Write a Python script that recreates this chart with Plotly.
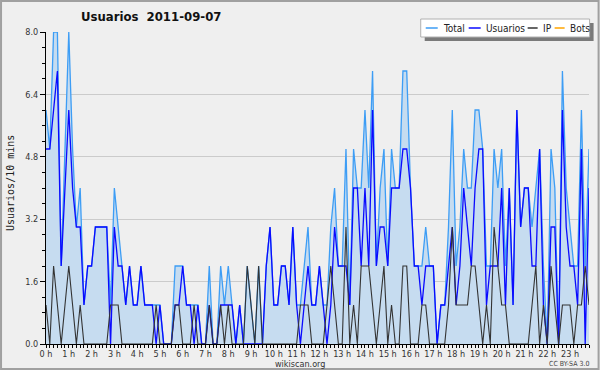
import plotly.graph_objects as go

# ---- data (10-minute intervals, 2011-09-07) ----
minutes = list(range(0, 1440, 10))

usuarios = [5, 5, 6, 7, 2, 4, 6, 4, 3, 3, 1, 2, 2, 3, 3, 3, 3, 0, 3, 2, 2, 1, 2, 1,
            1, 2, 1, 1, 1, 0, 1, 0, 0, 0, 1, 1, 2, 1, 1, 0, 1, 0, 0, 1, 0, 0, 1, 1,
            1, 1, 0, 1, 0, 0, 0, 0, 0, 0, 2, 3, 1, 1, 2, 2, 1, 3, 1, 0, 1, 2, 1, 1,
            2, 1, 0, 1, 3, 2, 2, 2, 1, 4, 4, 2, 4, 2, 6, 2, 3, 3, 2, 4, 4, 4, 5, 5,
            4, 2, 2, 1, 2, 2, 2, 0, 1, 1, 2, 3, 1, 2, 4, 3, 2, 4, 5, 5, 1, 2, 2, 2,
            4, 1, 4, 1, 6, 3, 4, 4, 2, 2, 5, 1, 0, 3, 3, 0, 6, 3, 2, 2, 1, 5, 0, 4]

ip = [1, 0, 2, 1, 0, 1, 2, 1, 0, 1, 0, 0, 0, 0, 0, 0, 0, 1, 1, 1, 0, 0, 0, 0,
      0, 0, 0, 0, 0, 1, 0, 0, 0, 0, 1, 1, 0, 0, 0, 1, 0, 0, 0, 1, 0, 0, 1, 0,
      1, 0, 0, 0, 0, 2, 1, 0, 2, 0, 0, 0, 0, 0, 0, 0, 0, 0, 0, 1, 1, 1, 0, 0,
      0, 0, 1, 2, 1, 0, 0, 3, 0, 1, 0, 2, 2, 2, 1, 0, 1, 2, 0, 1, 0, 0, 2, 2,
      0, 0, 0, 1, 1, 0, 0, 0, 0, 0, 1, 3, 1, 1, 1, 1, 2, 2, 1, 0, 1, 0, 3, 2,
      1, 1, 0, 0, 0, 0, 0, 0, 1, 2, 0, 1, 0, 2, 1, 0, 1, 1, 1, 0, 1, 1, 2, 1]

total = [6, 5, 8, 8, 2, 5, 8, 5, 3, 4, 1, 2, 2, 3, 3, 3, 3, 1, 4, 3, 2, 1, 2, 1,
         1, 2, 1, 1, 1, 1, 1, 0, 0, 0, 2, 2, 2, 1, 1, 1, 1, 0, 0, 2, 0, 0, 2, 1,
         2, 1, 0, 1, 0, 2, 1, 0, 2, 0, 2, 3, 1, 1, 2, 2, 1, 3, 1, 1, 2, 3, 1, 1,
         2, 1, 1, 3, 4, 2, 2, 5, 1, 5, 4, 4, 6, 4, 7, 2, 4, 5, 2, 5, 4, 4, 7, 7,
         4, 2, 2, 2, 3, 2, 2, 0, 1, 1, 3, 6, 2, 3, 5, 4, 4, 6, 6, 5, 2, 2, 5, 4,
         5, 2, 4, 1, 6, 3, 4, 4, 3, 4, 5, 2, 0, 5, 4, 0, 7, 4, 3, 2, 2, 6, 2, 5]

bots = [0] * 144

y_tick_vals = [0, 1.6, 3.2, 4.8, 6.4, 8.0]
y_tick_text = ["0.0", "1.6", "3.2", "4.8", "6.4", "8.0"]
hour_ticks = [0, 60, 120, 180, 240, 300, 360, 420, 480, 540, 600, 660, 720,
              780, 840, 900, 960, 1020, 1080, 1140, 1200, 1260, 1320, 1380]
hour_labels = ["0 h", "1 h", "2 h", "3 h", "4 h", "5 h", "6 h", "7 h", "8 h",
               "9 h", "10 h", "11 h", "12 h", "13 h", "14 h", "15 h", "16 h",
               "17 h", "18 h", "19 h", "20 h", "21 h", "22 h", "23 h"]

series_names = ["Total", "Usuarios", "IP", "Bots"]
series_colors = ["#3d9df5", "#0a0aff", "#333333", "#ffa500"]

# ---- layout geometry (pixels) ----
W_PX, H_PX = 600, 370
L, R, T, B = 46, 589.4, 32, 344
PW, PH = R - L, B - T


def px(x):
    return (x - L) / PW


def py(y):
    return (B - y) / PH


FONT = "DejaVu Sans Condensed, DejaVu Sans, sans-serif"

fig = go.Figure()
fig.add_trace(go.Scatter(x=minutes, y=bots, mode="lines", name="Bots",
                         line=dict(color=series_colors[3], width=1.2)))
fig.add_trace(go.Scatter(x=minutes, y=total, mode="lines", name="Total",
                         fill="tozeroy", fillcolor="#c6dcf0",
                         line=dict(color=series_colors[0], width=1.3)))
fig.add_trace(go.Scatter(x=minutes, y=usuarios, mode="lines", name="Usuarios",
                         line=dict(color=series_colors[1], width=1.3)))
fig.add_trace(go.Scatter(x=minutes, y=ip, mode="lines", name="IP",
                         line=dict(color=series_colors[2], width=1.1)))

shapes = []
annotations = []

# outer frame
shapes.append(dict(type="rect", xref="paper", yref="paper",
                   x0=px(1), x1=px(599), y0=py(369), y1=py(1),
                   line=dict(color="#a0a0a0", width=2), fillcolor="rgba(0,0,0,0)",
                   layer="above"))

# legend box with shadow
shapes.append(dict(type="rect", xref="paper", yref="paper",
                   x0=px(425), x1=px(594), y0=py(41), y1=py(23),
                   line=dict(width=0), fillcolor="#7a7a7a", layer="above"))
shapes.append(dict(type="rect", xref="paper", yref="paper",
                   x0=px(421), x1=px(590), y0=py(37), y1=py(19),
                   line=dict(color="#b0b0b0", width=1), fillcolor="#ffffff",
                   layer="above"))

legend_line_x = [(426, 438), (469, 481), (528, 538), (555, 565)]
legend_text_x = [441, 484, 541, 568]
for k in range(4):
    x0, x1 = legend_line_x[k]
    shapes.append(dict(type="line", xref="paper", yref="paper",
                       x0=px(x0), x1=px(x1), y0=py(28), y1=py(28),
                       line=dict(color=series_colors[k], width=1.5), layer="above"))
    annotations.append(dict(xref="paper", yref="paper", x=px(legend_text_x[k]), y=py(28.5),
                            text=series_names[k], showarrow=False, xanchor="left",
                            yanchor="middle", font=dict(family=FONT, size=10, color="#222")))

# title
annotations.append(dict(xref="paper", yref="paper", x=px(151), y=py(17),
                        text="<b>Usuarios\u00a0 2011-09-07</b>", showarrow=False,
                        xanchor="center", yanchor="middle",
                        font=dict(family=FONT, size=13, color="#111")))
# y title
annotations.append(dict(xref="paper", yref="paper", x=px(11), y=py(183),
                        text="Usuarios/10 mins", showarrow=False, textangle=-90,
                        xanchor="center", yanchor="middle",
                        font=dict(family="DejaVu Sans Mono, monospace", size=10, color="#222")))
# footer
annotations.append(dict(xref="paper", yref="paper", x=px(300), y=py(363.5),
                        text="wikiscan.org", showarrow=False,
                        xanchor="center", yanchor="middle",
                        font=dict(family=FONT, size=9, color="#333")))
annotations.append(dict(xref="paper", yref="paper", x=px(591), y=py(364),
                        text="CC BY-SA 3.0", showarrow=False,
                        xanchor="right", yanchor="middle",
                        font=dict(family=FONT, size=7, color="#444")))

fig.update_layout(
    width=W_PX, height=H_PX, autosize=False,
    margin=dict(l=L, r=W_PX - R, t=T, b=H_PX - B, pad=0),
    paper_bgcolor="#efefef", plot_bgcolor="#efefef",
    showlegend=False,
    shapes=shapes, annotations=annotations,
    xaxis=dict(range=[0, 1430], tickvals=hour_ticks, ticktext=hour_labels,
               showgrid=False, zeroline=False, showline=True, linecolor="#000",
               linewidth=1, ticks="outside", ticklen=3, tickcolor="#000",
               ticklabelstandoff=-2,
               tickfont=dict(family=FONT, size=9, color="#333"),
               minor=dict(dtick=10, tick0=0, ticks="outside", ticklen=3, tickcolor="#000",
                          showgrid=False)),
    yaxis=dict(range=[0, 8], tickvals=y_tick_vals, ticktext=y_tick_text,
               showgrid=True, gridcolor="#cbcbcb", gridwidth=1,
               zeroline=False, showline=True, linecolor="#000", linewidth=1,
               ticks="outside", ticklen=5, tickcolor="#000",
               tickfont=dict(family=FONT, size=9, color="#333"),
               minor=dict(dtick=0.4, tick0=0, ticks="outside", ticklen=3, tickcolor="#000",
                          showgrid=False)),
)

fig.write_html("out.html", config={"displayModeBar": False, "staticPlot": True})

# remove default page margin so the 600x370 figure fills the window exactly
with open("out.html", "r", encoding="utf-8") as f:
    html = f.read()
html = html.replace("<head>", "<head><style>html,body{margin:0;padding:0;overflow:hidden;}</style>", 1)
with open("out.html", "w", encoding="utf-8") as f:
    f.write(html)
